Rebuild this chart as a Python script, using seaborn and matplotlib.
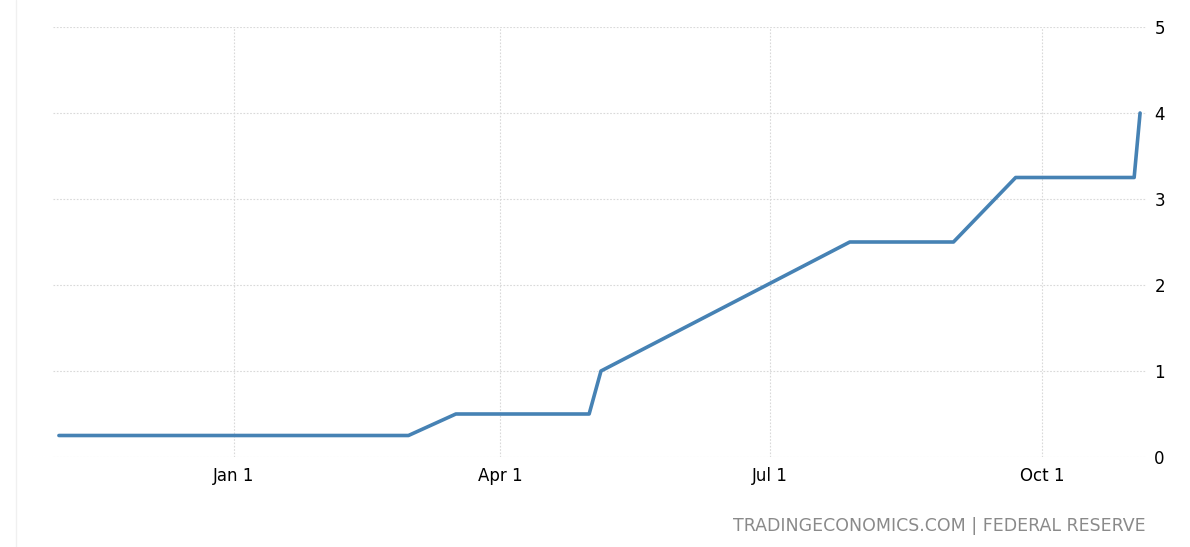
import pandas as pd
import seaborn as sns
import matplotlib.pyplot as plt

# fed funds rate (upper bound)
dates = ["2021-11-03", "2021-12-16", "2022-01-27", "2022-03-01", "2022-03-17",
         "2022-05-01", "2022-05-05", "2022-06-16", "2022-07-28", "2022-09-01",
         "2022-09-22", "2022-11-01", "2022-11-03"]
rates = [0.25, 0.25, 0.25, 0.25, 0.5, 0.5, 1.0, 1.75, 2.5, 2.5, 3.25, 3.25, 4.0]
tick_dates = ["2022-01-01", "2022-04-01", "2022-07-01", "2022-10-01"]
tick_labels = ["Jan 1", "Apr 1", "Jul 1", "Oct 1"]
y_ticks = [0, 1, 2, 3, 4, 5]


def main():
    sns.set_style("white")
    plt.rcParams['font.family'] = ['DejaVu Sans']

    df = pd.DataFrame({"date": pd.to_datetime(dates), "rate": rates})

    fig = plt.figure(figsize=(11.9, 5.47), dpi=100)
    ax = fig.add_axes([53 / 1190, 1 - 457 / 547, (1146 - 53) / 1190, (457 - 27) / 547])

    sns.lineplot(data=df, x="date", y="rate", ax=ax, color="#4682b4", linewidth=2.6)

    ax.set_xlim(pd.Timestamp("2021-11-01"), pd.Timestamp("2022-11-05"))
    ax.set_ylim(0, 5)
    ax.set_xticks(pd.to_datetime(tick_dates))
    ax.set_xticklabels(tick_labels, fontsize=12, color="black")
    ax.set_yticks(y_ticks)
    ax.set_yticklabels([str(v) for v in y_ticks], fontsize=12, color="black")
    ax.yaxis.tick_right()
    ax.tick_params(axis="y", length=0, pad=6)
    ax.tick_params(axis="x", length=6, color="#dddddd", pad=1, direction="out")
    ax.set_xlabel("")
    ax.set_ylabel("")

    ax.grid(True, color="#d9d9d9", linestyle=(0, (1.5, 1.5)), linewidth=0.8)
    for s in ax.spines.values():
        s.set_visible(False)

    # faint page border on the left
    fig.add_artist(plt.Line2D([16 / 1190, 16 / 1190], [0, 1], color="#f0f0f0", linewidth=1))

    fig.text(1146 / 1190, 1 - 526 / 547, "TRADINGECONOMICS.COM | FEDERAL RESERVE",
             ha="right", va="center", fontsize=12.5, color="#8a8a8a")

    fig.savefig("out.png", dpi=100)


if __name__ == "__main__":
    main()
